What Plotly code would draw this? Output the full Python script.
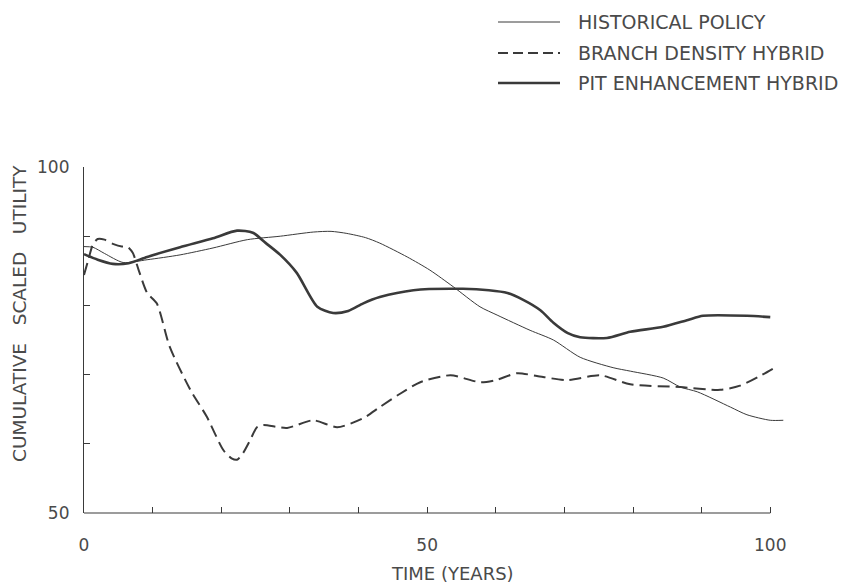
import plotly.graph_objects as go

# ---- data ----
series_names = ["HISTORICAL POLICY", "BRANCH DENSITY HYBRID", "PIT ENHANCEMENT HYBRID"]

hist_x = [0, 1.3, 3, 5.7, 9.2, 14, 18.8, 23.8, 28.6, 33.4, 36, 38.3, 41, 43.1, 47.1,
          50.4, 53.8, 57.7, 60.2, 65, 68.4, 72.3, 77.1, 79.6, 84.4, 86.9, 89.4, 94.2,
          96.6, 100, 101.9]
hist_y = [88.5, 88.4, 87.5, 86.2, 86.6, 87.3, 88.3, 89.5, 90.0, 90.6, 90.7, 90.4, 89.8,
          89.0, 87.0, 85.1, 82.7, 79.8, 78.6, 76.4, 75.0, 72.5, 71.0, 70.5, 69.5, 68.2,
          67.5, 65.3, 64.2, 63.4, 63.4]

bd_x = [0, 0.6, 1.3, 2, 3, 4.2, 5.5, 6.3, 7.1, 8, 9.2, 10.6, 12.5, 15.5, 17.9, 20.3,
        21.5, 22.3, 23.2, 24.2, 25.2, 26.1, 29.6, 33.4, 36.9, 40.7, 43.1, 46, 49, 53.4,
        57.7, 60, 63.1, 66, 70.4, 75.2, 79.6, 86.9, 92.7, 95.6, 98.5, 101]
bd_y = [84.4, 86.5, 88.8, 89.6, 89.5, 88.9, 88.5, 88.5, 87.6, 85.0, 81.8, 80.3, 74.0,
        67.8, 63.9, 59.1, 57.9, 57.7, 58.7, 60.5, 62.4, 62.7, 62.3, 63.4, 62.4, 63.7,
        65.3, 67.2, 68.9, 69.9, 68.9, 69.2, 70.2, 69.8, 69.2, 69.9, 68.6, 68.2, 67.8,
        68.4, 69.8, 71.2]

pit_x = [0, 2, 4.2, 6.5, 9.2, 14, 18.8, 22.3, 24.6, 26.5, 28.6, 31, 34, 36.3, 38.5,
         40.7, 43.1, 48, 55.2, 59, 61.7, 64, 66.5, 68.4, 70.5, 72.3, 76.2, 79.6, 84.4,
         88, 90.2, 96.6, 100]
pit_y = [87.4, 86.6, 86.0, 86.1, 87.0, 88.4, 89.7, 90.8, 90.5, 89.0, 87.3, 84.7, 79.8,
         78.9, 79.2, 80.3, 81.2, 82.2, 82.4, 82.2, 81.8, 80.8, 79.3, 77.5, 76.0, 75.4,
         75.3, 76.2, 76.9, 77.9, 78.5, 78.5, 78.3]

x_tickvals = [0, 10, 20, 30, 40, 50, 60, 70, 80, 90, 100]
x_ticktext = ["0", "", "", "", "", "50", "", "", "", "", "100"]
y_tickvals = [50, 60, 70, 80, 90, 100]
y_ticktext = ["50", "", "", "", "", "100"]

x_title = "TIME (YEARS)"
y_title = "CUMULATIVE\u00a0\u00a0\u00a0SCALED\u00a0\u00a0\u00a0UTILITY"

# ---- styling ----
INK = "#3a3a3a"
TXT = "#4a4a4a"
FONT = "DejaVu Sans"
styles = [
    dict(color=INK, width=1.0, dash="solid"),
    dict(color=INK, width=2.0, dash="12px,6px"),
    dict(color=INK, width=2.6, dash="solid"),
]

fig = go.Figure()
for name, xs, ys, st in zip(series_names, [hist_x, bd_x, pit_x], [hist_y, bd_y, pit_y], styles):
    fig.add_trace(go.Scatter(x=xs, y=ys, mode="lines", name=name,
                             line=dict(shape="spline", smoothing=0.7, **st),
                             showlegend=False, hoverinfo="skip"))

L, R, T, B = 84, 58, 167, 71
plot_w = 842 - L - R
plot_h = 584 - T - B
x_max = 102

def px_x(p):
    return (p - L) / plot_w

def px_y(p):
    return (584 - B - p) / plot_h

shapes = []
annotations = []
# x axis line from 0 to 100 only
shapes.append(dict(type="line", xref="paper", yref="paper", x0=0, x1=100 / x_max,
                   y0=0, y1=0, line=dict(color=INK, width=1.2)))

# manual legend
leg_rows = [22, 53, 83]
for name, st, yy in zip(series_names, styles, leg_rows):
    shapes.append(dict(type="line", xref="paper", yref="paper",
                       x0=px_x(498), x1=px_x(560), y0=px_y(yy), y1=px_y(yy),
                       line=dict(color=INK, width=st["width"],
                                 dash="10px,5px" if st["dash"] != "solid" else "solid")))
    annotations.append(dict(text=name, xref="paper", yref="paper", x=px_x(576), y=px_y(yy),
                            xanchor="left", yanchor="middle", showarrow=False,
                            font=dict(family=FONT, size=19, color=TXT)))

annotations.append(dict(text=x_title, xref="paper", yref="paper", x=px_x(452), y=px_y(573),
                        xanchor="center", yanchor="middle", showarrow=False,
                        font=dict(family=FONT, size=18, color=TXT)))
annotations.append(dict(text=y_title, xref="paper", yref="paper", x=px_x(19), y=px_y(314),
                        xanchor="center", yanchor="middle", textangle=-90, showarrow=False,
                        font=dict(family=FONT, size=18.5, color=TXT)))

fig.update_layout(
    width=842, height=584,
    margin=dict(l=L, r=R, t=T, b=B),
    paper_bgcolor="white", plot_bgcolor="white",
    font=dict(family=FONT, size=15, color=TXT),
    shapes=shapes, annotations=annotations,
    xaxis=dict(range=[0, x_max], tickvals=x_tickvals, ticktext=x_ticktext,
               ticks="inside", ticklen=6, tickwidth=1.2, tickcolor=INK,
               showline=False, showgrid=False, zeroline=False,
               ticklabelstandoff=20, tickfont=dict(size=17, color=TXT)),
    yaxis=dict(range=[50, 100], tickvals=y_tickvals, ticktext=y_ticktext,
               ticks="inside", ticklen=6, tickwidth=1.2, tickcolor=INK,
               showline=True, linecolor=INK, linewidth=1.2,
               showgrid=False, zeroline=False,
               ticklabelstandoff=10, tickfont=dict(size=17, color=TXT)),
)

fig.write_html("out.html")
